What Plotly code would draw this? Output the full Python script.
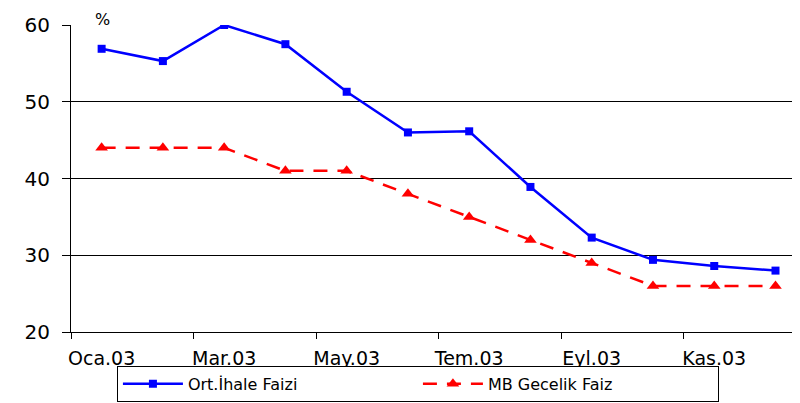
import plotly.graph_objects as go

months = ["Oca.03", "Şub.03", "Mar.03", "Nis.03", "May.03", "Haz.03",
          "Tem.03", "Ağu.03", "Eyl.03", "Eki.03", "Kas.03", "Ara.03"]
ihale = [56.9, 55.3, 60.0, 57.5, 51.3, 46.0, 46.15, 38.9, 32.3, 29.4, 28.6, 28.0]
gecelik = [44, 44, 44, 41, 41, 38, 35, 32, 29, 26, 26, 26]
tick_idx = [0, 2, 4, 6, 8, 10]
x = list(range(len(months)))

font = "DejaVu Sans, Verdana, sans-serif"

fig = go.Figure()
fig.add_trace(go.Scatter(
    x=x, y=ihale, name="Ort.İhale Faizi", mode="lines+markers",
    line=dict(color="#0000FF", width=2.5),
    marker=dict(symbol="square", size=8, color="#0000FF"),
))
fig.add_trace(go.Scatter(
    x=x, y=gecelik, name="MB Gecelik Faiz", mode="lines+markers",
    line=dict(color="#FF0000", width=2.5, dash="14px,10px"),
    marker=dict(symbol="triangle-up", size=11, color="#FF0000"),
))

fig.update_layout(
    width=792, height=395,
    margin=dict(l=63, r=0, t=17, b=71),
    plot_bgcolor="white", paper_bgcolor="white",
    font=dict(family=font, size=19, color="black"),
    showlegend=True,
    legend=dict(orientation="h", x=0.063, xref="paper", y=0.094, yref="container",
                xanchor="left", yanchor="top",
                bordercolor="black", borderwidth=1, font=dict(size=16),
                itemwidth=60, tracegroupgap=0,
                entrywidth=225, entrywidthmode="pixels"),
    xaxis=dict(range=[-0.5, 11.4], tickmode="array", tickvals=tick_idx,
               ticktext=[months[i] for i in tick_idx], ticks="",
               showgrid=False, zeroline=False, showline=True,
               linecolor="black", linewidth=1, automargin=False,
               ticklabelstandoff=9,
               minor=dict(ticks="outside", tick0=-0.5, dtick=2, ticklen=6,
                          tickcolor="black", showgrid=False),
               tickfont=dict(size=19)),
    yaxis=dict(range=[20, 60], tickvals=[20, 30, 40, 50, 60], ticks="outside",
               ticklen=8, tickcolor="black", showgrid=True, gridcolor="black",
               gridwidth=1, zeroline=False, showline=True, linecolor="black",
               linewidth=1, automargin=False, ticklabelstandoff=8,
               tickfont=dict(size=20)),
    annotations=[dict(text="%", xref="paper", yref="paper", x=0.03, y=1.0195,
                      xanchor="left", yanchor="middle", showarrow=False,
                      font=dict(size=16))],
)

fig.write_html("out.html")
